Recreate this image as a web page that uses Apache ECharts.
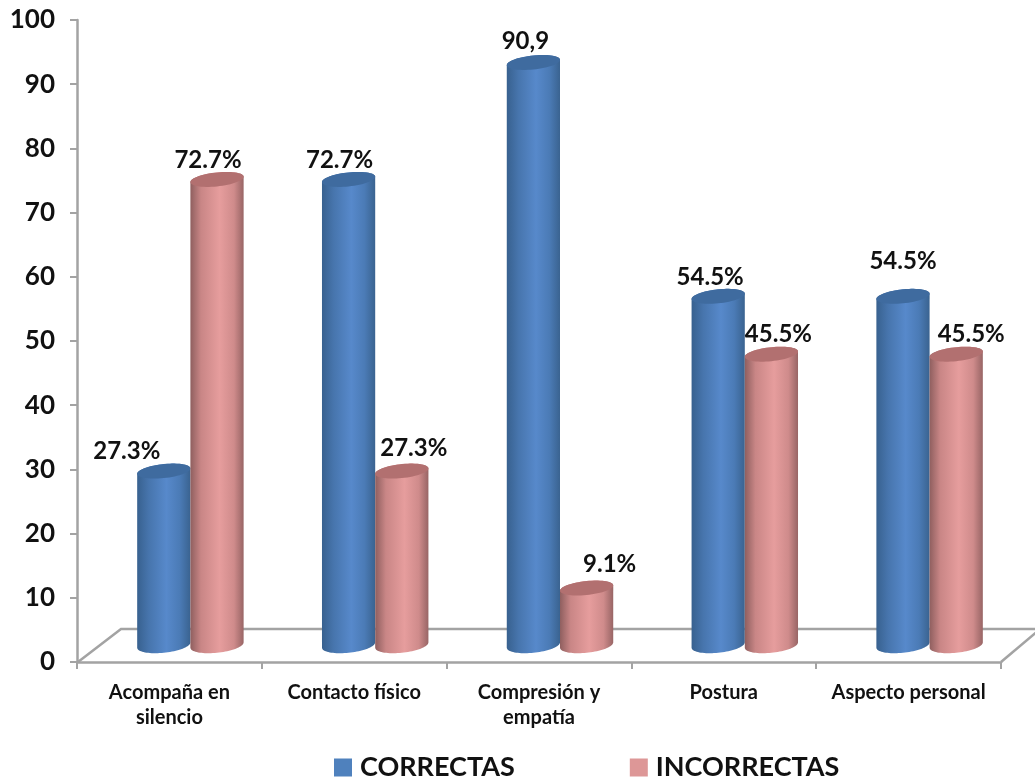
<!DOCTYPE html>
<html>
<head>
<meta charset="utf-8">
<style>html,body{margin:0;padding:0;background:#fff}#c{width:1035px;height:780px}</style>
<script src="https://cdn.jsdelivr.net/npm/echarts@6/dist/echarts.min.js"></script>
</head>
<body>
<div id="c"></div>
<script>
const categories = ['Acompaña en\nsilencio', 'Contacto físico', 'Compresión y\nempatía', 'Postura', 'Aspecto personal'];
const correctas = [27.3, 72.7, 90.9, 54.5, 54.5];
const incorrectas = [72.7, 27.3, 9.1, 45.5, 45.5];
const correctasLabels = ['27.3%', '72.7%', '90,9', '54.5%', '54.5%'];
const incorrectasLabels = ['72.7%', '27.3%', '9.1%', '45.5%', '45.5%'];
const yRange = [0, 100];

// Hand-placed label nudges relative to each cylinder's top centre
const correctasNudge = [[-37, -20], [-9, -19.5], [-8, -21.5], [-8, -19.5], [0, -35.5]];
const incorrectasNudge = [[-9, -19.5], [12, -23], [23, -24], [7, -19.5], [15, -19.5]];

const FONT = 'Lato, "Open Sans", sans-serif';
const AXIS_GREY = '#a3a3a3';
const RY = 7;        // vertical radius of the cylinder caps
const SHEAR = 0.1;   // caps lean slightly upward to the right
const BASE_LIFT = 1.5; // the foot ellipse sits just above the zero plane

function gradient(stops) {
  return new echarts.graphic.LinearGradient(0, 0, 1, 0,
    stops.map(s => ({ offset: s[0], color: s[1] })));
}

const palettes = {
  blue: {
    legend: '#4f81bd',
    cap: '#3f6b9f',
    body: [[0, '#38618f'], [0.22, '#4775ad'], [0.55, '#5789cb'], [0.8, '#4b7bb6'], [1, '#3a6390']]
  },
  red: {
    legend: '#dd9797',
    cap: '#b27070',
    body: [[0, '#8f5f5f'], [0.2, '#c98686'], [0.55, '#e69d9d'], [0.82, '#cf8b8b'], [1, '#986565']]
  }
};

function capPoints(cx, cy, rx, ry, from, to, n) {
  const pts = [];
  for (let k = 0; k <= n; k++) {
    const t = from + (to - from) * k / n;
    const dx = rx * Math.cos(t);
    pts.push([cx + dx, cy + ry * Math.sin(t) - SHEAR * dx]);
  }
  return pts;
}

// Each series draws one cylinder per category, side by side around the category centre
function cylinderSeries(name, values, labels, nudges, palette, side) {
  return {
    name: name,
    type: 'custom',
    xAxisIndex: 1,
    yAxisIndex: 1,
    color: palette.legend,
    itemStyle: { color: palette.legend },
    data: values.map((v, i) => [i, v]),
    encode: { x: 0, y: 1 },
    renderItem: function (params, api) {
      const i = api.value(0);
      const base = api.coord([i, 0]);
      const top = api.coord([i, api.value(1)]);
      const rx = api.size([1, 0])[0] * 0.144;
      const cx = base[0] + side * rx;
      const foot = capPoints(cx, base[1] - BASE_LIFT, rx, RY + 0.8, 0, Math.PI, 40);
      const topEdge = capPoints(cx, top[1], rx, RY, Math.PI, 2 * Math.PI, 40);
      return {
        type: 'group',
        children: [
          {
            type: 'polygon',
            shape: { points: foot.concat(topEdge) },
            style: { fill: gradient(palette.body) }
          },
          {
            type: 'polygon',
            shape: { points: capPoints(cx, top[1], rx, RY, 0, 2 * Math.PI, 60) },
            style: { fill: palette.cap }
          },
          {
            type: 'text',
            style: {
              text: labels[i],
              x: cx + nudges[i][0],
              y: top[1] + nudges[i][1],
              align: 'center',
              verticalAlign: 'middle',
              fill: '#111',
              font: '700 24px ' + FONT
            }
          }
        ]
      };
    }
  };
}

// Floor of the 3D box, drawn behind the cylinders
const floorSeries = {
  type: 'custom',
  xAxisIndex: 0,
  yAxisIndex: 0,
  silent: true,
  data: [[0, 0]],
  encode: { x: 0, y: 1 },
  renderItem: function (params, api) {
    const w = api.size([1, 0])[0];
    const p = api.coord([0, 0]);
    const left = p[0] - w / 2;
    const right = left + w * categories.length;
    const y = p[1];
    return {
      type: 'group',
      children: [
        {
          type: 'polyline',
          shape: { points: [[left + 1, y], [left + 44, y - 33], [right + 40, y - 33]] },
          style: { stroke: AXIS_GREY, lineWidth: 2.5, fill: 'none' }
        },
        {
          type: 'line',
          shape: { x1: right, y1: y, x2: right + 38, y2: y - 32 },
          style: { stroke: AXIS_GREY, lineWidth: 2.5 }
        }
      ]
    };
  }
};

const chart = echarts.init(document.getElementById('c'), null, { renderer: 'canvas' });
chart.setOption({
  animation: false,
  backgroundColor: '#fff',
  grid: [
    { left: 77, right: 34, top: 20, bottom: 118 },
    { left: 98, right: 13, top: 4, bottom: 133.5 }
  ],
  xAxis: [
    {
      type: 'category',
      gridIndex: 0,
      data: categories,
      axisLine: { show: true, lineStyle: { color: AXIS_GREY, width: 2.5 } },
      axisTick: { show: true, length: 7, lineStyle: { color: AXIS_GREY, width: 2 } },
      axisLabel: {
        color: '#111', fontFamily: FONT, fontSize: 20, fontWeight: 700,
        margin: 18, lineHeight: 25, interval: 0
      }
    },
    { type: 'category', gridIndex: 1, data: categories, show: false }
  ],
  yAxis: [
    {
      type: 'value',
      gridIndex: 0,
      min: yRange[0],
      max: yRange[1],
      interval: 10,
      splitLine: { show: false },
      axisLine: { show: true, lineStyle: { color: AXIS_GREY, width: 2.5 } },
      axisTick: { show: true, length: 7, lineStyle: { color: AXIS_GREY, width: 2 } },
      axisLabel: {
        color: '#111', fontFamily: FONT, fontSize: 26, fontWeight: 700,
        margin: 22, padding: [4, 0, 0, 0]
      }
    },
    { type: 'value', gridIndex: 1, min: yRange[0], max: yRange[1], show: false }
  ],
  legend: {
    left: 334,
    top: 754,
    padding: 0,
    itemWidth: 18,
    itemHeight: 18,
    itemGap: 115,
    icon: 'rect',
    data: ['CORRECTAS', 'INCORRECTAS'],
    textStyle: { color: '#111', fontFamily: FONT, fontSize: 27, fontWeight: 700, padding: [0, 0, 0, 3] }
  },
  series: [
    floorSeries,
    cylinderSeries('CORRECTAS', correctas, correctasLabels, correctasNudge, palettes.blue, -1),
    cylinderSeries('INCORRECTAS', incorrectas, incorrectasLabels, incorrectasNudge, palettes.red, 1)
  ]
});
</script>
</body>
</html>
